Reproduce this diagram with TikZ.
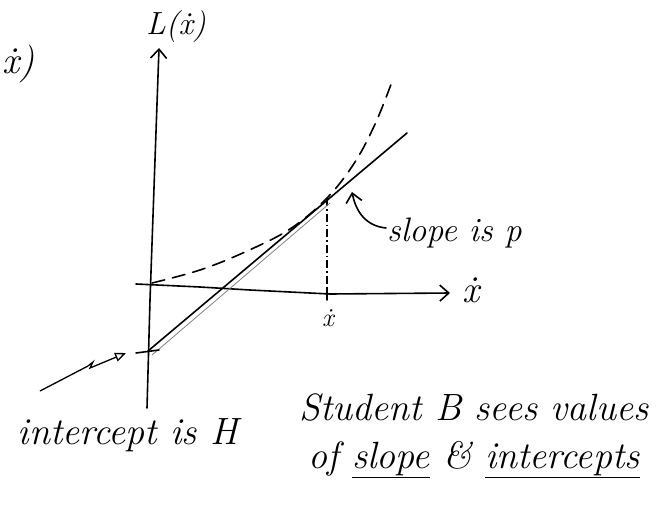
\documentclass[tikz,border=0pt]{standalone}
\usepackage{fontspec}
\usetikzlibrary{arrows.meta}
\begin{document}
\begin{tikzpicture}[x=1pt,y=-1pt,
  ink/.style={line width=1.6pt,line cap=round,line join=round},
  thin ink/.style={line width=0.8pt,gray},
  hand/.style={font=\fontsize{30}{36}\selectfont\itshape,inner sep=0pt},
  big/.style={hand,font=\fontsize{38}{44}\selectfont\itshape},
  barb/.style={-{Straight Barb[length=9pt,width=16pt,line width=1.6pt]}}]
\useasboundingbox (0,0) rectangle (663,519);
% axes
\coordinate (vb) at (147,408);
\coordinate (vt) at (159,48);
\coordinate (hl) at (136,284);
\coordinate (hr) at (450,293);
\draw[ink,barb] (vb) -- (150,300) -- (vt);
\draw[ink,barb] (hl) -- (200,287) -- (250,290) -- (330,294) -- (hr);
\node[hand,font=\fontsize{32}{36}\selectfont\itshape] (Lx) at (176,27) {L(\.{x})};
\node[big,anchor=west] (xa) at (462,290) {\.{x}};
\node[big,anchor=west] (lc) at (2,64) {\.{x})};
% tick at x
\coordinate (tick) at (327,198);
\coordinate (tickb) at (327,300);
\draw[ink] (327,288) -- (tickb);
\draw[line width=1.2pt,dash pattern=on 8pt off 3pt on 1.5pt off 3pt] (tick) -- (327,290);
\node[hand,font=\fontsize{26}{30}\selectfont\itshape] (xt) at (328,318) {\.{x}};
% dashed curve
\draw[ink,dash pattern=on 13pt off 8pt] plot[smooth,tension=0.6] coordinates
  {(152,283)(200,270)(245,252)(290,229)(327,198)(355,162)(376,122)(393,79)};
% tangent line
\coordinate (ta) at (148,351);
\coordinate (tb) at (407,133);
\draw[ink] (ta) -- (tb);
\draw[thin ink] (152,355) -- (330,203);
% intercept tick
\coordinate (il) at (136,353);
\coordinate (ir) at (159,350);
\draw[ink] (il) -- (ir);
% intercept arrow
\coordinate (ia) at (40,391);
\coordinate (ib) at (126,353);
\draw[line width=1.3pt,-{Triangle[open,length=11pt,width=9pt,line width=1.3pt]}]
  (ia) -- (88,366) -- (93,362) -- (90,368) -- (ib);
\node[big] (it) at (128,435) {intercept is H};
% slope arrow
\coordinate (sa) at (386,228);
\coordinate (sb) at (352,192);
\draw[ink,barb] (sa) .. controls (366,226) and (356,212) .. (sb);
\node[hand,anchor=west,font=\fontsize{34}{40}\selectfont\itshape] (sl) at (387,233) {slope is p};
% student text
\node[big] (s1) at (474,408) {Student B sees values};
\node[big] (s2) at (474,460) {of \underline{slope} \& \underline{intercepts}};
\end{tikzpicture}
\end{document}
